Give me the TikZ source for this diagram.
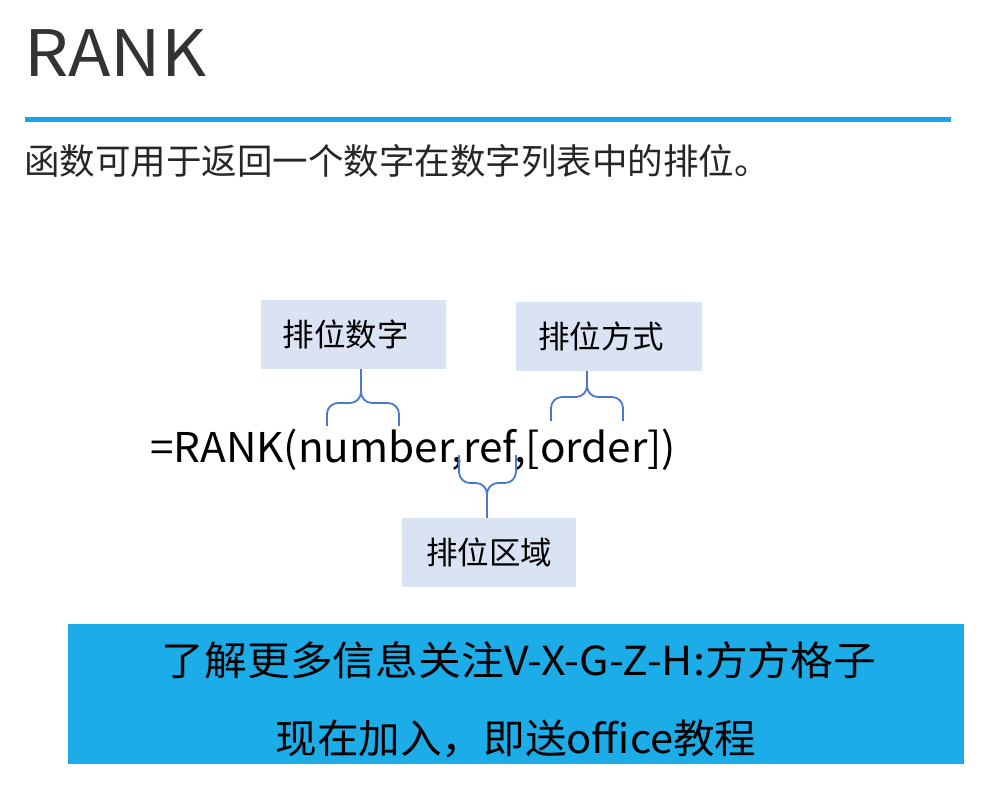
\documentclass[tikz,border=0pt]{standalone}
\usepackage{fontspec}
\setmainfont{Noto Sans CJK SC}
\usetikzlibrary{positioning}
\definecolor{rulecyan}{HTML}{1AA3E8}
\definecolor{labelgrey}{HTML}{DAE3F3}
\definecolor{braceblue}{HTML}{4A78CC}
\definecolor{bannerblue}{HTML}{1CADE8}
\definecolor{titlegrey}{HTML}{333333}

\begin{document}
\begin{tikzpicture}[x=1pt,y=-1pt,
	label box/.style={fill=labelgrey, minimum height=69pt, inner sep=0pt,
		font=\fontsize{31.5}{36}\selectfont},
	rbrace/.style={draw=braceblue, line width=1.8pt, rounded corners=11pt},
	banner line/.style={anchor=base, inner sep=0pt, font=\fontsize{40}{46}\selectfont}]
	\useasboundingbox (0,0) rectangle (988,800);

	% heading
	\node[anchor=base west, inner sep=0pt, text=titlegrey, font=\fontsize{64}{70}\selectfont\addfontfeatures{FakeStretch=1.09}] (title) at (24,77) {RANK};
	\draw[rulecyan, line width=5pt] (25,119.5) -- (951,119.5);
	\node[anchor=base west, inner sep=0pt, text=black!85, font=\fontsize{35.5}{40}\selectfont] (intro) at (24,174) {函数可用于返回一个数字在数字列表中的排位。};

	% formula and its parts
	\node[anchor=base west, inner sep=0pt, font=\fontsize{41}{48}\selectfont\addfontfeatures{FakeStretch=1.03}] (formula) at (150,462) {=RANK(number,ref,[order])};
	\node[label box, minimum width=185pt] (qNum) at (353.5,334.5) {\hspace*{-16pt}排位数字};
	\node[label box, minimum width=186pt] (qOrd) at (609,336.5) {\hspace*{-16pt}排位方式};
	\node[label box, minimum width=174pt] (qRef) at (489,552.5) {排位区域};

	\coordinate (tNum) at (361,403);
	\coordinate (tOrd) at (587,397);
	\coordinate (tRef) at (487,483);
	\draw[rbrace] (327,426) |- (tNum) -- (tNum |- qNum.south);
	\draw[rbrace] (399,426) |- (tNum) -- (tNum |- qNum.south);
	\draw[rbrace] (551,421) |- (tOrd) -- (tOrd |- qOrd.south);
	\draw[rbrace] (623,421) |- (tOrd) -- (tOrd |- qOrd.south);
	\draw[rbrace] (459,455) |- (tRef) -- (tRef |- qRef.north);
	\draw[rbrace] (516,455) |- (tRef) -- (tRef |- qRef.north);

	% banner
	\node[fill=bannerblue, minimum width=896pt, minimum height=140pt, inner sep=0pt] (banner) at (516,694) {};
	\node[banner line] (lineA) at (519,675) {\addfontfeatures{FakeStretch=1.07}了解更多信息关注V-X-G-Z-H:方方格子};
	\node[banner line] (lineB) at (516,753) {\addfontfeatures{FakeStretch=1.04}现在加入，即送office教程};
\end{tikzpicture}
\end{document}
